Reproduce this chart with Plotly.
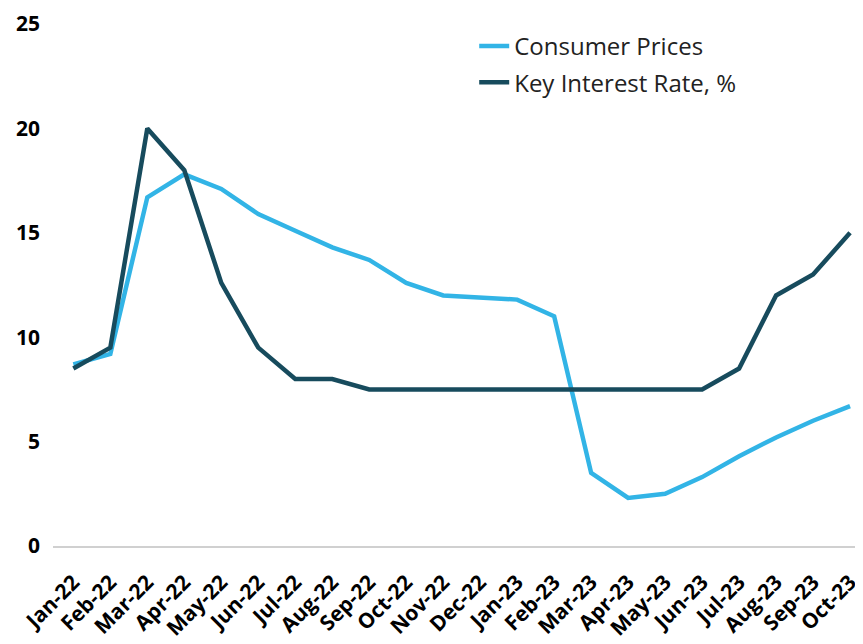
import plotly.graph_objects as go

months = ["Jan-22", "Feb-22", "Mar-22", "Apr-22", "May-22", "Jun-22", "Jul-22", "Aug-22",
          "Sep-22", "Oct-22", "Nov-22", "Dec-22", "Jan-23", "Feb-23", "Mar-23", "Apr-23",
          "May-23", "Jun-23", "Jul-23", "Aug-23", "Sep-23", "Oct-23"]

consumer_prices = [8.7, 9.2, 16.7, 17.8, 17.1, 15.9, 15.1, 14.3, 13.7, 12.6, 12.0, 11.9,
                   11.8, 11.0, 3.5, 2.3, 2.5, 3.3, 4.3, 5.2, 6.0, 6.7]

key_rate = [8.5, 9.5, 20.0, 18.0, 12.6, 9.5, 8.0, 8.0, 7.5, 7.5, 7.5, 7.5,
            7.5, 7.5, 7.5, 7.5, 7.5, 7.5, 8.5, 12.0, 13.0, 15.0]

y_ticks = [0, 5, 10, 15, 20, 25]

fig = go.Figure()

fig.add_trace(go.Scatter(
    x=months, y=consumer_prices,
    mode="lines",
    name="Consumer Prices",
    legendgroup="cpi",
    line=dict(color="#32B4E6", width=4.5),
))

fig.add_trace(go.Scatter(
    x=months, y=key_rate,
    mode="lines",
    name="Key Interest Rate, %",
    legendgroup="rate",
    line=dict(color="#174B5D", width=4.5),
))

# the page body adds 8px on the left/top, so the figure is 8px smaller
fig.update_layout(
    width=855,
    height=636,
    margin=dict(l=45, r=0, t=16, b=98),
    paper_bgcolor="white",
    plot_bgcolor="white",
    font=dict(family="'Open Sans', sans-serif", color="black"),
    showlegend=True,
    legend=dict(
        x=0.52, y=1.0, xanchor="left", yanchor="top",
        font=dict(size=24, color="#222222"),
        bgcolor="rgba(0,0,0,0)",
        traceorder="grouped",
        tracegroupgap=2,
        itemwidth=30,
    ),
    xaxis=dict(
        type="category",
        range=[-0.55, 21.35],
        automargin=False,
        showgrid=False,
        showline=True,
        linecolor="#D0D0D0",
        linewidth=1.5,
        ticks="",
        tickangle=-45,
        tickfont=dict(size=21, family="'Open Sans', sans-serif", weight="bold"),
        ticklabelstandoff=14,
        ticklabeloverflow="allow",
        zeroline=False,
    ),
    yaxis=dict(
        range=[0, 25],
        automargin=False,
        tickvals=y_ticks,
        showgrid=False,
        showline=False,
        zeroline=False,
        ticks="",
        tickfont=dict(size=21, family="'Open Sans', sans-serif", weight="bold"),
        ticklabelstandoff=12,
        ticklabeloverflow="allow",
    ),
)

fig.write_html("out.html")
